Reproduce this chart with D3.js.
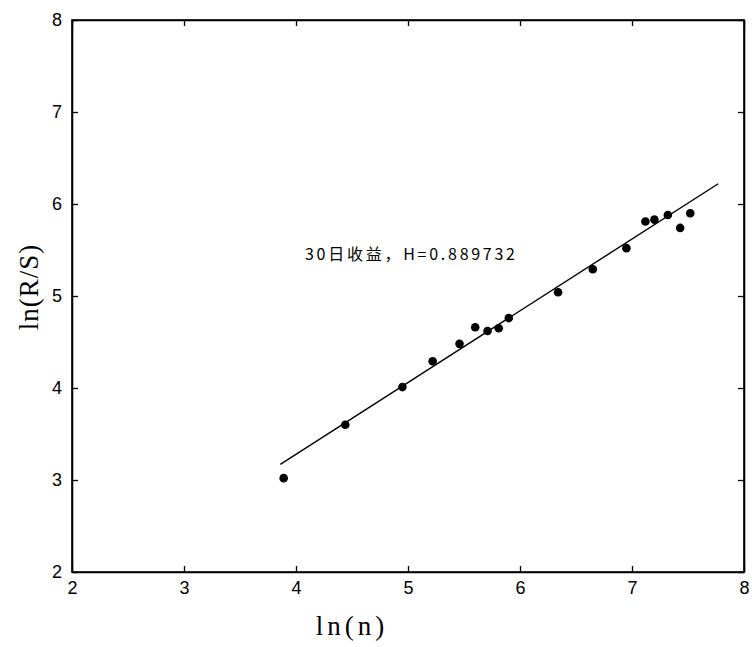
<!DOCTYPE html>
<html>
<head>
<meta charset="utf-8">
<script src="https://cdn.jsdelivr.net/npm/d3@7"></script>
<style>
  html, body { margin: 0; padding: 0; background: #fff; }
  svg { display: block; }
</style>
</head>
<body>
<svg id="chart" width="752" height="647"></svg>
<script>
// ln(n) and ln(R/S) for each sub-period length n
const lnN  = [3.89, 4.44, 4.95, 5.22, 5.46, 5.60, 5.71, 5.81, 5.90, 6.34, 6.65, 6.95, 7.12, 7.20, 7.32, 7.43, 7.52];
const lnRS = [3.02, 3.60, 4.01, 4.29, 4.48, 4.66, 4.62, 4.65, 4.76, 5.04, 5.29, 5.52, 5.81, 5.83, 5.88, 5.74, 5.90];

// endpoints of the fitted regression line
const fitX = [3.86, 7.77];
const fitY = [3.17, 6.22];

const xTicks = [2, 3, 4, 5, 6, 7, 8];
const yTicks = [2, 3, 4, 5, 6, 7, 8];

const annotation = "30日收益，H=0.889732";

const svg = d3.select("#chart");
const plotLeft = 72, plotRight = 744, plotTop = 20, plotBottom = 572;

const x = d3.scaleLinear().domain([2, 8]).range([plotLeft, plotRight]);
const y = d3.scaleLinear().domain([2, 8]).range([plotBottom, plotTop]);

const tickLen = 6;
const tickFont = "Liberation Sans, Arial, sans-serif";
const fmt = d3.format("d");

// axes with inward ticks on all four sides
const gB = svg.append("g").attr("transform", `translate(0,${plotBottom})`)
  .call(d3.axisBottom(x).tickValues(xTicks).tickFormat(fmt).tickSizeInner(-tickLen).tickSizeOuter(0).tickPadding(9));
const gT = svg.append("g").attr("transform", `translate(0,${plotTop})`)
  .call(d3.axisTop(x).tickValues(xTicks).tickSizeInner(-tickLen).tickSizeOuter(0).tickFormat(""));
const gL = svg.append("g").attr("transform", `translate(${plotLeft},0)`)
  .call(d3.axisLeft(y).tickValues(yTicks).tickFormat(fmt).tickSizeInner(-tickLen).tickSizeOuter(0).tickPadding(10));
const gR = svg.append("g").attr("transform", `translate(${plotRight},0)`)
  .call(d3.axisRight(y).tickValues(yTicks).tickSizeInner(-tickLen).tickSizeOuter(0).tickFormat(""));

[gB, gT, gL, gR].forEach(g => {
  g.select(".domain").attr("stroke", "#000").attr("stroke-width", 1.6);
  g.selectAll(".tick line").attr("stroke", "#000").attr("stroke-width", 1.3);
  g.selectAll(".tick text")
    .attr("fill", "#000")
    .style("font-family", tickFont)
    .style("font-size", "18px");
});

// closed frame
svg.append("rect")
  .attr("x", plotLeft).attr("y", plotTop)
  .attr("width", plotRight - plotLeft).attr("height", plotBottom - plotTop)
  .attr("fill", "none").attr("stroke", "#000").attr("stroke-width", 1.6);

// regression line
svg.append("line")
  .attr("x1", x(fitX[0])).attr("y1", y(fitY[0]))
  .attr("x2", x(fitX[1])).attr("y2", y(fitY[1]))
  .attr("stroke", "#000").attr("stroke-width", 1.4);

// data points
svg.append("g").selectAll("circle")
  .data(lnN.map((v, i) => [v, lnRS[i]]))
  .join("circle")
  .attr("cx", d => x(d[0]))
  .attr("cy", d => y(d[1]))
  .attr("r", 4.3)
  .attr("fill", "#000");

// annotation
svg.append("text")
  .attr("x", 305).attr("y", 260)
  .attr("textLength", 210)
  .attr("lengthAdjust", "spacing")
  .style("font-family", "Noto Sans CJK SC, sans-serif")
  .style("font-size", "16px")
  .attr("fill", "#000")
  .text(annotation);

// axis titles
svg.append("text")
  .attr("x", 352).attr("y", 635)
  .attr("text-anchor", "middle")
  .style("font-family", "Liberation Serif, DejaVu Serif, serif")
  .style("font-size", "27px")
  .style("letter-spacing", "4px")
  .attr("fill", "#000")
  .text("ln(n)");

svg.append("text")
  .attr("transform", "translate(38,287) rotate(-90)")
  .attr("text-anchor", "middle")
  .style("font-family", "Liberation Serif, DejaVu Serif, serif")
  .style("font-size", "27px")
  .style("letter-spacing", "1px")
  .attr("fill", "#000")
  .text("ln(R/S)");
</script>
</body>
</html>
